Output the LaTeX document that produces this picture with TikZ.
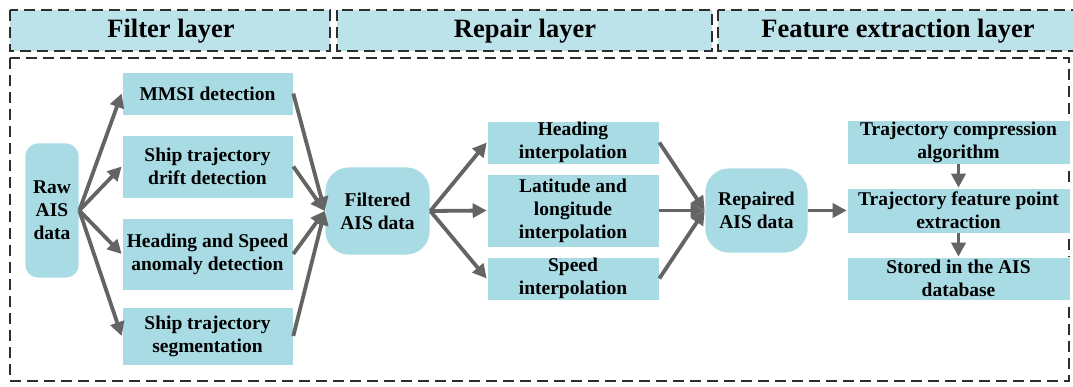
\documentclass[tikz,border=0pt]{standalone}
\usepackage{fontspec}
\setmainfont{Liberation Serif}
\usetikzlibrary{arrows.meta}
\definecolor{hdrfill}{RGB}{189,227,234}
\definecolor{boxfill}{RGB}{168,219,228}
\definecolor{arrgray}{RGB}{100,100,100}
\definecolor{dashgray}{RGB}{45,45,45}
\begin{document}
\begin{tikzpicture}[x=1pt,y=-1pt,
  hdr/.style={draw=dashgray,line width=1.8pt,dash pattern=on 11pt off 6pt,fill=hdrfill},
  hdrtext/.style={font=\bfseries\fontsize{26.5}{30}\selectfont},
  frame/.style={draw=dashgray,line width=1.8pt,dash pattern=on 11pt off 6pt},
  proc/.style={rectangle,fill=boxfill,draw=white,line width=0.6pt,inner sep=0pt,align=center,font=\bfseries\fontsize{19.5}{23}\selectfont},
  data/.style={proc,rounded corners=#1},
  arr/.style={draw=arrgray,line width=3.8pt,-{Triangle[length=14pt,width=14pt]}}
]
\useasboundingbox (0,0) rectangle (1073,387);
% headers
\draw[hdr] (10,10) rectangle (330,51);
\node[hdrtext] (hfilter) at (171,31) {Filter layer};
\draw[hdr] (337,10) rectangle (712,51);
\node[hdrtext] (hrepair) at (525,31) {Repair layer};
\draw[hdr] (718,10) rectangle (1080,51);
\node[hdrtext] (hfeat) at (898,31) {Feature extraction layer};
% main frame
\draw[frame] (10,58) rectangle (1069,381);
% nodes
\node[data=13pt,minimum width=54pt,minimum height=135pt] (raw) at (52,210.5) {Raw\\AIS\\data};
\node[proc,minimum width=171pt,minimum height=43pt] (mmsi) at (207.5,93.5) {MMSI detection};
\node[proc,minimum width=171pt,minimum height=63pt] (drift) at (207.5,166.5) {Ship trajectory\\drift detection};
\node[proc,minimum width=171pt,minimum height=72pt] (hs) at (207.5,254) {Heading and Speed\\anomaly detection};
\node[proc,minimum width=171pt,minimum height=58pt] (seg) at (207.5,336) {Ship trajectory\\segmentation};
\node[data=24pt,minimum width=105pt,minimum height=88pt] (filt) at (377.5,211) {Filtered\\AIS data};
\node[proc,minimum width=172pt,minimum height=43pt] (head) at (573,142.5) {Heading\\interpolation};
\node[proc,minimum width=172pt,minimum height=73pt] (lat) at (573,210.5) {Latitude and\\longitude\\interpolation};
\node[proc,minimum width=172pt,minimum height=43pt] (speed) at (573,278.5) {Speed\\interpolation};
\node[data=24pt,minimum width=103pt,minimum height=85pt] (rep) at (756.5,210.5) {Repaired\\AIS data};
\node[proc,minimum width=223pt,minimum height=44pt] (comp) at (958.5,142) {Trajectory compression\\algorithm};
\node[proc,minimum width=223pt,minimum height=45pt] (fp) at (958.5,210.5) {Trajectory feature point\\extraction};
\node[proc,minimum width=223pt,minimum height=43pt] (stored) at (958.5,278.5) {Stored in the AIS\\database};
% arrows
\foreach \t in {mmsi,drift,hs,seg} \draw[arr] (raw.east) -- (\t.west);
\foreach \s in {mmsi,drift,hs,seg} \draw[arr] (\s.east) -- (filt.west);
\foreach \t in {head,lat,speed} \draw[arr] (filt.east) -- (\t.west);
\foreach \s in {head,lat,speed} \draw[arr] (\s.east) -- (rep.west);
\draw[arr] (rep.east) -- (fp.west);
\draw[arr] (comp.south) -- (fp.north);
\draw[arr] (fp.south) -- (stored.north);
\end{tikzpicture}
\end{document}
